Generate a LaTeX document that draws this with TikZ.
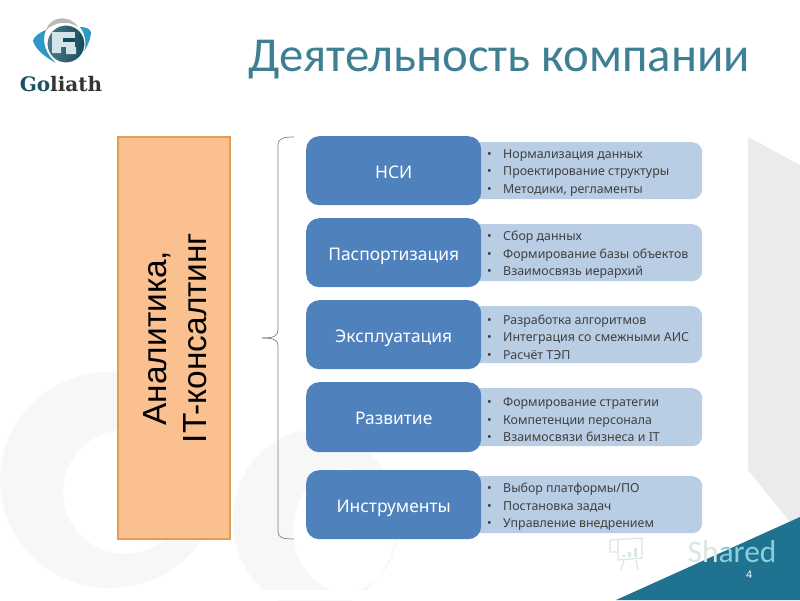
\documentclass[tikz,border=0pt]{standalone}
\usepackage{fontspec}
\setmainfont{Noto Sans}
\newfontfamily\titlefont{Carlito}
\newfontfamily\arialfont{Liberation Sans}
\newfontfamily\logofont{DejaVu Serif}
\usepackage{xcolor}
\usepackage{tikz}
\usetikzlibrary{positioning,calc}
\definecolor{titleteal}{HTML}{3F7F93}
\definecolor{cornerteal}{HTML}{1F7391}
\definecolor{stepblue}{HTML}{4F81BD}
\definecolor{listblue}{HTML}{B9CDE5}
\definecolor{boxorange}{HTML}{FBC08F}
\definecolor{edgeorange}{HTML}{E59C59}
\definecolor{wmgrey}{HTML}{F7F7F7}
\definecolor{wmpale}{HTML}{DCE6E2}
\definecolor{wmcyan}{HTML}{8CCFDC}
\definecolor{cornergrey}{HTML}{EBEBEB}
\definecolor{textdark}{HTML}{404040}
\newcommand{\itm}[1]{\makebox[16pt][l]{\textbullet}#1}
\tikzset{
  stepbox/.style={fill=stepblue, rounded corners=13pt, minimum width=175pt, anchor=north west,
    text=white, font=\fontsize{17.4}{20}\selectfont, inner sep=0pt, text height=15pt, text depth=0pt},
  listbox/.style={fill=listblue, rounded corners=10pt, minimum width=232pt, minimum height=57pt,
    anchor=north west, inner sep=0pt},
  listtext/.style={anchor=west, align=left, text=textdark, inner sep=0pt,
    font=\fontsize{12.4}{17.5}\selectfont},
}
\begin{document}
\begin{tikzpicture}[x=1pt,y=-1pt]
\useasboundingbox (0,0) rectangle (800,600);
% Background
\fill[white] (0,0) rectangle (800,600);
\fill[wmgrey, even odd rule] (110,480) ellipse (110 and 108) (125,492) ellipse (62 and 62);
\fill[wmgrey, even odd rule] (315,520) ellipse (82 and 90) (345,530) ellipse (52 and 62);
\fill[white] (0,590) rectangle (800,600);
\fill[cornergrey] (748,137) -- (800,165) -- (800,517) -- (790,522) -- (748,470) -- (748,137);
\fill[cornerteal] (616,600) -- (800,517) -- (800,600) -- cycle;
% Logo
\fill[gray!55] (46,30) .. controls (50,16) and (70,14) .. (78,27) .. controls (68,20) and (55,22) .. (46,30);
\fill[cyan!55!teal] (46,30) .. controls (38,33) and (33,38) .. (33,41) .. controls (36,50) and (45,57) .. (56,63) .. controls (46,54) and (41,42) .. (46,30);
\fill[cyan!55!teal] (80,27) .. controls (86,27) and (91,29) .. (91,33) .. controls (90,42) and (86,50) .. (78,59) .. controls (87,48) and (87,36) .. (80,27);
\shade[left color=gray!50!cornerteal, right color=cornerteal!65!black, draw=white, line width=1pt] (66,44) circle (19);
\fill[white!80!cornerteal] (52,32) rectangle (75,47);
\fill[white!80!cornerteal] (52,47) rectangle (61,53) (66,47) rectangle (76,54);
\fill[cornerteal!65!black] (63,38) rectangle (75,42);
% Goliath lettering
\node[inner sep=0pt, font=\logofont\bfseries\fontsize{20}{22}\selectfont, text=black!80] (logotext) at (61,84)
  {\textcolor{cornerteal!70!black}{Go}liath};
% Title
\node[inner sep=0pt, text=titleteal, font=\titlefont\fontsize{48.8}{52}\selectfont] (title) at (499,60) {Деятельность компании};
% Left box
\node[draw=edgeorange, fill=boxorange, line width=2.5pt, minimum width=112pt, minimum height=402pt,
  inner sep=0pt] (mainbox) at (174,338) {};
\node[rotate=90, align=center, inner sep=0pt, font=\arialfont\fontsize{33.4}{40}\selectfont] (maintext) at (175.5,338)
  {Аналитика,\\IT-консалтинг};
% Bracket
\coordinate (brtop) at (294,137);
\coordinate (brtip) at (262,338);
\coordinate (brbot) at (294,539);
\draw[gray, line width=0.7pt] (brtop) .. controls (284,137) and (278,138) .. (278,145) -- (278,330)
  .. controls (278,336) and (274,338) .. (brtip);
\draw[gray, line width=0.7pt] (brtip) .. controls (274,338) and (278,340) .. (278,346) -- (278,532)
  .. controls (278,538) and (284,539) .. (brbot);
% Lists
\node[listbox] (list1) at (470,142) {};
\node[listbox] (list2) at (470,224) {};
\node[listbox] (list3) at (470,306) {};
\node[listbox, minimum height=58pt] (list4) at (470,388) {};
\node[listbox] (list5) at (470,476) {};
% Steps
\node[stepbox, minimum height=69pt] (nsi) at (306,136) {НСИ};
\node[stepbox, minimum height=69pt] (passport) at (306,218) {Паспортизация};
\node[stepbox, minimum height=69pt] (expl) at (306,300) {Эксплуатация};
\node[stepbox, minimum height=70pt] (devel) at (306,382) {Развитие};
\node[stepbox, minimum height=69pt] (tools) at (306,470) {Инструменты};
% List texts
\node[listtext] (text1) at (487,173) {\itm{Нормализация данных}\\\itm{Проектирование структуры}\\\itm{Методики, регламенты}};
\node[listtext] (text2) at (487,255) {\itm{Сбор данных}\\\itm{Формирование базы объектов}\\\itm{Взаимосвязь иерархий}};
\node[listtext] (text3) at (487,337) {\itm{Разработка алгоритмов}\\\itm{Интеграция со смежными АИС}\\\itm{Расчёт ТЭП}};
\node[listtext] (text4) at (487,420) {\itm{Формирование стратегии}\\\itm{Компетенции персонала}\\\itm{Взаимосвязи бизнеса и IT}};
\node[listtext] (text5) at (487,507) {\itm{Выбор платформы/ПО}\\\itm{Постановка задач}\\\itm{Управление внедрением}};
% Watermark
\draw[wmpale, line width=1.2pt] (610,540) -- (610,552) -- (618,552) (610,540) -- (642,538) -- (642,558) -- (618,560) -- (618,540);
\fill[wmpale] (622,555) rectangle (625,557) (628,552) rectangle (631,557) (634,548) rectangle (637,557);
\draw[wmpale, line width=1.2pt] (624,560) -- (621,570) (636,560) -- (638,570);
\node[inner sep=0pt, font=\titlefont\fontsize{31.5}{32}\selectfont] (shared) at (732,552)
  {\textcolor{wmpale}{Sh}\textcolor{wmcyan}{ared}};
\node[inner sep=0pt, text=white, font=\fontsize{10.5}{11}\selectfont] (pagenum) at (749,575) {4};
\end{tikzpicture}
\end{document}
